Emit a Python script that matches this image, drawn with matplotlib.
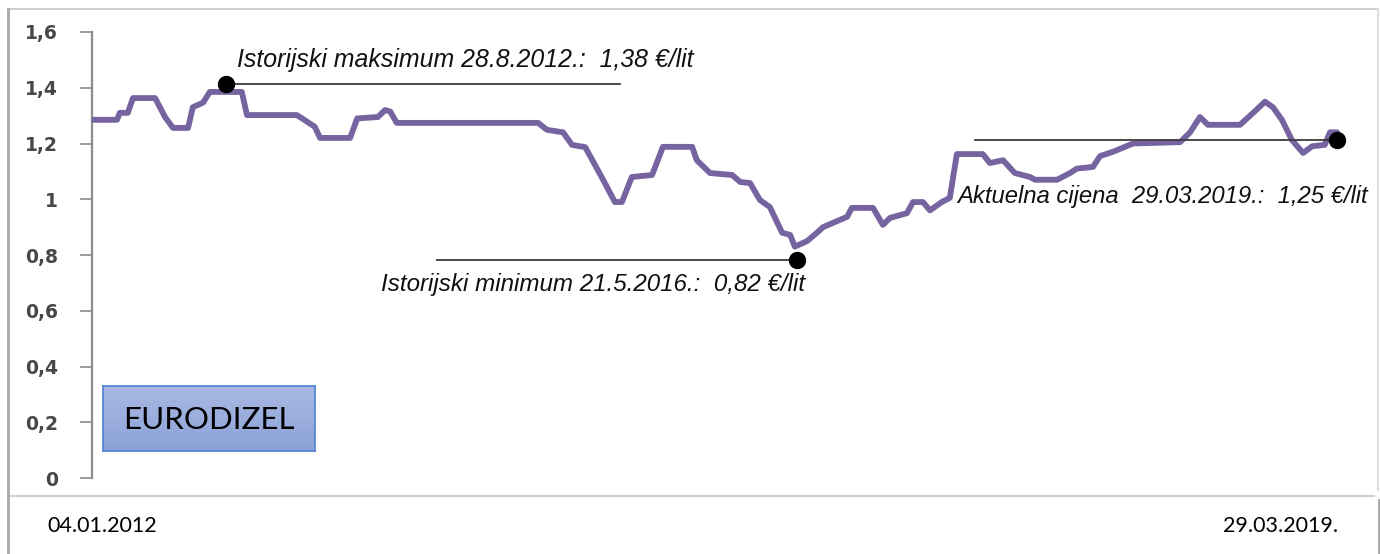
import matplotlib.pyplot as plt
import numpy as np
import pandas as pd
from matplotlib.colors import LinearSegmentedColormap

# cijena eurodizela (EUR/lit), dani od 04.01.2012
start = pd.Timestamp("2012-01-04")
days = [0, 51, 57, 74, 85, 132, 153, 170, 202, 212, 234, 248, 316, 327, 433,
        471, 482, 546, 561, 605, 620, 631, 645, 945, 964, 998, 1017, 1045,
        1083, 1108, 1123, 1144, 1187, 1210, 1272, 1282, 1310, 1357, 1374,
        1395, 1416, 1437, 1463, 1480, 1490, 1516, 1537, 1550, 1601, 1611,
        1656, 1677, 1692, 1728, 1741, 1762, 1777, 1802, 1819, 1834, 1889,
        1904, 1932, 1957, 1989, 2000, 2047, 2074, 2089, 2123, 2138, 2165,
        2208, 2308, 2329, 2350, 2367, 2435, 2463, 2488, 2505, 2524, 2545,
        2569, 2588, 2615, 2626, 2641]
prices = [1.285, 1.285, 1.31, 1.31, 1.363, 1.363, 1.295, 1.256, 1.256, 1.33,
          1.347, 1.385, 1.385, 1.302, 1.302, 1.26, 1.22, 1.22, 1.29, 1.295,
          1.32, 1.315, 1.274, 1.274, 1.249, 1.24, 1.195, 1.187, 1.07, 0.99,
          0.99, 1.08, 1.087, 1.188, 1.188, 1.14, 1.094, 1.087, 1.062, 1.058,
          0.997, 0.972, 0.88, 0.872, 0.83, 0.85, 0.88, 0.90, 0.937, 0.969,
          0.969, 0.908, 0.933, 0.95, 0.99, 0.99, 0.96, 0.99, 1.005, 1.162,
          1.162, 1.13, 1.14, 1.094, 1.08, 1.07, 1.07, 1.094, 1.11, 1.116,
          1.155, 1.17, 1.20, 1.205, 1.24, 1.295, 1.267, 1.267, 1.31, 1.35,
          1.33, 1.285, 1.213, 1.166, 1.19, 1.195, 1.24, 1.24]

# oznake: maksimum, minimum, aktuelna cijena
mark_days = [282, 1495, 2641]
mark_values = [1.414, 0.782, 1.213]
line_from = [282, 730, 1872]
line_to = [1119, 1495, 2641]
mark_labels = ["Istorijski maksimum 28.8.2012.:  1,38 €/lit",
               "Istorijski minimum 21.5.2016.:  0,82 €/lit",
               "Aktuelna cijena  29.03.2019.:  1,25 €/lit"]
label_pos = [(237, 60), (381, 285), (957, 197)]
label_sizes = [17.9, 17.4, 17.2]

yticks = [0, 0.2, 0.4, 0.6, 0.8, 1, 1.2, 1.4, 1.6]
ytick_labels = ["0", "0,2", "0,4", "0,6", "0,8", "1", "1,2", "1,4", "1,6"]

W, H = 1380, 554
fx = lambda px: px / W
fy = lambda py: 1 - py / H

fig = plt.figure(figsize=(13.8, 5.54), dpi=100)
fig.patch.set_facecolor("white")

# okvir grafikona
fig.add_artist(plt.Line2D([fx(8), fx(1378)], [fy(9), fy(9)], color="#cfcfcf", lw=1.5))
fig.add_artist(plt.Line2D([fx(8), fx(1374)], [fy(496), fy(496)], color="#d0d0d0", lw=1.5))
fig.add_artist(plt.Line2D([fx(1378), fx(1378)], [fy(9), fy(490)], color="#e0e0e0", lw=1.5))
fig.add_artist(plt.Line2D([fx(8), fx(8)], [fy(9), fy(554)], color="#a8a8a8", lw=2))
fig.add_artist(plt.Line2D([fx(1379), fx(1379)], [fy(500), fy(554)], color="#a8a8a8", lw=2))

ax = fig.add_axes([fx(92), fy(478), fx(1378) - fx(92), fy(32) - fy(478)])
x = start + pd.to_timedelta(days, unit="D")
ax.plot(x, prices, color="#7664a0", lw=4.2, solid_joinstyle="round",
        solid_capstyle="round", zorder=3)

ax.set_ylim(0, 1.6)
ax.set_xlim(start + pd.Timedelta(days=-2), start + pd.Timedelta(days=2728))
for s in ["top", "right", "bottom"]:
    ax.spines[s].set_visible(False)
ax.spines["left"].set_color("#8c8c8c")
ax.spines["left"].set_linewidth(1.6)
ax.set_xticks([])
ax.set_yticks(yticks)
ax.set_yticklabels(ytick_labels, fontdict={"family": "DejaVu Sans", "weight": "bold"})
ax.tick_params(axis="y", length=8.5, width=1.2, color="#8c8c8c", pad=16,
               labelsize=13.5, labelcolor="#474747")

# linije i tacke oznaka
for d, v, a, b in zip(mark_days, mark_values, line_from, line_to):
    ax.plot([start + pd.Timedelta(days=a), start + pd.Timedelta(days=b)], [v, v],
            color="#3c3c3c", lw=1.3, zorder=4)
    ax.plot(start + pd.Timedelta(days=d), v, "o", color="black", ms=11.5, zorder=5)

for lab, (px, py), fs in zip(mark_labels, label_pos, label_sizes):
    fig.text(fx(px), fy(py), lab, ha="left", va="center", fontsize=fs,
             style="italic", family="Liberation Sans", color="#111111")

# EURODIZEL pravougaonik s gradijentom
box = fig.add_axes([fx(103), fy(451), fx(315) - fx(103), fy(386) - fy(451)])
grad = np.linspace(0, 1, 64).reshape(-1, 1)
cmap = LinearSegmentedColormap.from_list("g", ["#a9b9e3", "#8ca2d8"])
box.imshow(grad, aspect="auto", cmap=cmap, extent=[0, 1, 0, 1])
box.set_xticks([])
box.set_yticks([])
for s in box.spines.values():
    s.set_color("#4f7fd4")
    s.set_linewidth(1.2)
box.text(0.5, 0.47, "EURODIZEL", ha="center", va="center", fontsize=22.5,
         family="Lato", color="black", transform=box.transAxes)

fig.text(fx(47), fy(526), "04.01.2012", ha="left", va="center", fontsize=15.5,
         family="Lato", color="black")
fig.text(fx(1338), fy(526), "29.03.2019.", ha="right", va="center", fontsize=15.5,
         family="Lato", color="black")

fig.savefig("out.png", dpi=100, facecolor="white")
